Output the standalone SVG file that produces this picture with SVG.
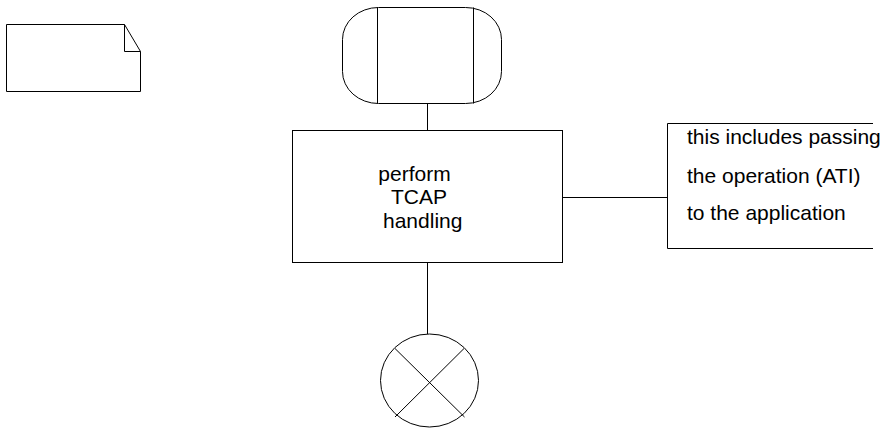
<svg xmlns="http://www.w3.org/2000/svg" width="887" height="434" viewBox="0 0 887 434">
<style>
.s{fill:#fff;stroke:#000;stroke-width:1}
.l{fill:none;stroke:#000;stroke-width:1}
.t{font-family:"Liberation Sans",Arial,sans-serif;font-size:21px;fill:#000}
</style>
<rect width="887" height="434" fill="#fff"/>
<g id="document">
<path class="s" d="M6.5,24.5 H124.5 L140.5,51.5 V91.5 H6.5 Z"/>
<path class="l" d="M124.5,24.5 V51.5 H140.5"/>
</g>
<g id="connectors">
<line class="l" x1="427.5" y1="103" x2="427.5" y2="130"/>
<line class="l" x1="427.5" y1="262" x2="427.5" y2="334"/>
<line class="l" x1="562" y1="197.5" x2="667.5" y2="197.5"/>
</g>
<g id="start">
<rect class="s" x="342.5" y="7.5" width="159" height="96" rx="36" ry="32"/>
<line class="l" x1="377.5" y1="7.5" x2="377.5" y2="103.5"/>
<line class="l" x1="473.5" y1="7.5" x2="473.5" y2="103.5"/>
</g>
<g id="process">
<rect class="s" x="292.5" y="130.5" width="270" height="132"/>
<text class="t" x="378.3" y="181">perform</text>
<text class="t" x="391" y="204.3">TCAP</text>
<text class="t" x="383" y="227.5">handling</text>
</g>
<g id="comment">
<path class="l" d="M873,123.5 H667.5 V248.5 H873"/>
<text class="t" x="687" y="143.5">this includes passing</text>
<text class="t" x="687" y="182.5">the operation (ATI)</text>
<text class="t" x="687" y="220">to the application</text>
</g>
<g id="end">
<ellipse class="s" cx="429.5" cy="380.5" rx="49" ry="46.5"/>
<line class="l" x1="395" y1="348.5" x2="464.5" y2="417"/>
<line class="l" x1="464" y1="348.5" x2="395" y2="417"/>
</g>
</svg>
